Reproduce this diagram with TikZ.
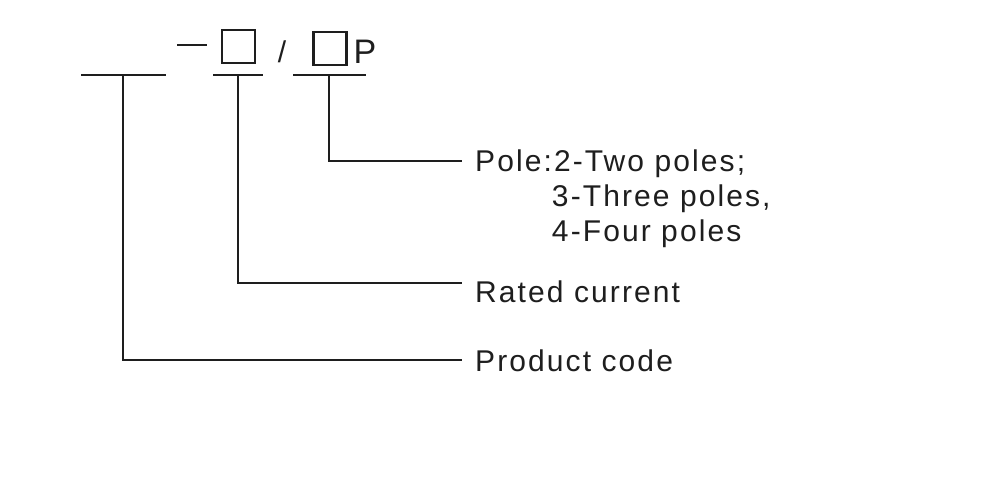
\documentclass[tikz,border=0pt]{standalone}
\usepackage{fontspec}
\setmainfont{Liberation Sans}
\newfontfamily\lblfont[LetterSpace=7]{Liberation Sans}
\definecolor{ink}{HTML}{1E1E1E}
\begin{document}
\begin{tikzpicture}[x=1pt,y=-1pt,
  rule/.style={draw=ink, line width=2pt},
  lbl/.style={font=\lblfont\fontsize{30}{35}\selectfont, text=ink, inner sep=0pt, anchor=base west, align=left},
  sym/.style={font=\fontsize{30}{36}\selectfont, text=ink, inner sep=0pt, anchor=base},
  blank/.style={draw=ink, line width=2.4pt, minimum width=33pt, minimum height=33pt, inner sep=0pt},
]
\useasboundingbox (0,0) rectangle (1000,484);
\fill[white] (0,0) rectangle (1000,484);

% model code template
\draw[rule] (81,75) -- (166,75);
\draw[rule] (177,45) -- (207,45);
\node[blank] (b1) at (238.5,46.5) {};
\draw[rule] (213,75) -- (263,75);
\node[sym] (slash) at (282,63) {/};
\node[blank] (b2) at (330,48.5) {};
\node[sym, anchor=base west, font=\fontsize{34}{40}\selectfont] (p) at (353.5,64) {P};
\draw[rule] (293,75) -- (366,75);

\coordinate (u1) at (123,75);
\coordinate (u2) at (238,75);
\coordinate (u3) at (329,75);

% labels (base of a multi-line node is its last line)
\node[lbl] (pole) at (475,241) {Pole:2-Two poles;\\\hphantom{Pole:}3-Three poles,\\\hphantom{Pole:}4-Four poles};
\node[lbl] (rated) at (475,302) {Rated current};
\node[lbl] (code) at (475,371) {Product code};

% connectors
\draw[rule] (u3) |- ([xshift=-13pt, yshift=80pt]pole.base west);
\draw[rule] (u2) |- ([xshift=-13pt, yshift=19pt]rated.base west);
\draw[rule] (u1) |- ([xshift=-13pt, yshift=11pt]code.base west);
\end{tikzpicture}
\end{document}
